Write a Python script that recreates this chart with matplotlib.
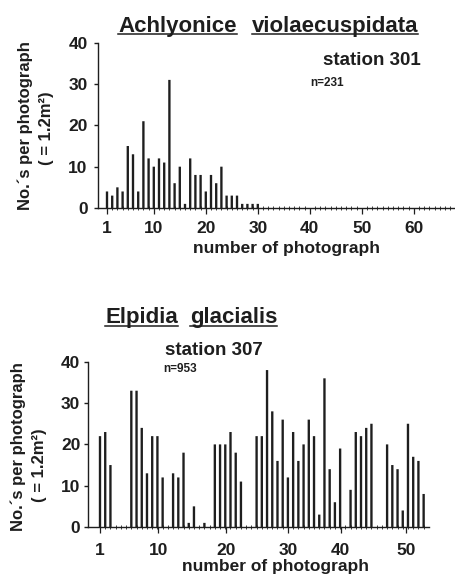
import matplotlib
matplotlib.use("Agg")
import matplotlib.pyplot as plt
from matplotlib.lines import Line2D
from matplotlib.ticker import FixedLocator

plt.rcParams['font.family'] = ['Liberation Sans', 'DejaVu Sans']
plt.rcParams['font.weight'] = 'bold'

# ---------------- data ----------------
top_species = ["Achlyonice", "violaecuspidata"]
top_station = "station 301"
top_n = "n=231"
top_photos = list(range(1, 31))
top_counts = [4, 3, 5, 4, 15, 13, 4, 21, 12, 10, 12, 11, 31, 6, 10, 1, 12, 8, 8, 4,
              8, 6, 10, 3, 3, 3, 1, 1, 1, 1]
top_all_photos = list(range(1, 68))
top_xticks = [1, 10, 20, 30, 40, 50, 60]

bot_species = ["Elpidia", "glacialis"]
bot_station = "station 307"
bot_n = "n=953"
bot_counts = [22, 23, 15, 0, 0, 0, 33, 33, 24, 13, 22, 22, 12, 0, 13, 12, 18, 1, 5, 0,
              1, 0, 20, 20, 20, 23, 18, 11, 0, 0, 22, 22, 38, 28, 16, 26, 12, 23, 16, 20,
              26, 22, 3, 36, 14, 6, 19, 0, 9, 23, 22, 24, 25, 0, 0, 20, 15, 14, 4, 25,
              17, 16, 8]
bot_slots = list(range(len(bot_counts)))
bot_tick_pos = [0, 11.2, 24.1, 36.1, 46.1, 58.6]
bot_tick_labels = ["1", "10", "20", "30", "40", "50"]

yticks = [0, 10, 20, 30, 40]
ylabel1 = "No.\u00b4s per photograph"
ylabel2 = "( = 1.2m\u00b2)"
xlabel = "number of photograph"

INK = "#1e1e1e"
W, H = 456, 581
fig = plt.figure(figsize=(W / 100, H / 100), dpi=100)
fig.patch.set_facecolor("white")


def fx(x):
    return x / W


def fy(y):
    return 1 - y / H


def style(ax, xpad, ypad):
    for s in ("top", "right"):
        ax.spines[s].set_visible(False)
    for s in ("left", "bottom"):
        ax.spines[s].set_color(INK)
        ax.spines[s].set_linewidth(1.0)
    ax.spines["left"].set_bounds(0, 40)
    ax.set_ylim(0, 40)
    ax.set_yticks(yticks)
    ax.tick_params(axis="y", direction="out", length=3, width=1.0, color=INK,
                   labelsize=12.5, labelcolor=INK, pad=ypad)
    ax.tick_params(axis="x", which="major", direction="out", length=4, width=0.9,
                   color=INK, labelsize=12.5, labelcolor=INK, pad=xpad)
    ax.tick_params(axis="x", which="minor", direction="inout", length=2.5, width=0.6,
                   color=INK)
    for lab in ax.get_xticklabels() + ax.get_yticklabels():
        lab.set_fontweight("bold")
    ax.set_facecolor("none")


# ---------------- top chart ----------------
ax1 = fig.add_axes([fx(98), fy(208), fx(455) - fx(98), fy(42.7) - fy(208)])
bars1 = ax1.bar(top_photos, top_counts, width=0.45, color=INK, linewidth=0, clip_on=False)
for b in bars1:
    b.set_snap(False)
ax1.set_xlim(1 - 9 / 5.2, 1 + 348 / 5.2)
ax1.set_xticks(top_xticks)
ax1.set_xticklabels([str(t) for t in top_xticks])
ax1.xaxis.set_minor_locator(FixedLocator(top_all_photos))
style(ax1, xpad=5.5, ypad=4.5)

# ---------------- bottom chart ----------------
ax2 = fig.add_axes([fx(88), fy(527), fx(429) - fx(88), fy(361.8) - fy(527)])
bars2 = ax2.bar(bot_slots, bot_counts, width=0.45, color=INK, linewidth=0, clip_on=False)
for b in bars2:
    b.set_snap(False)
ax2.set_xlim(-12 / 5.22, 329 / 5.22)
ax2.set_xticks(bot_tick_pos)
ax2.set_xticklabels(bot_tick_labels)
ax2.xaxis.set_minor_locator(FixedLocator(bot_slots))
style(ax2, xpad=7.5, ypad=2.5)

# ---------------- texts ----------------
tk = dict(color=INK, fontweight="bold")
t1a = fig.text(fx(237), fy(31.7), top_species[0], ha="right", va="baseline", fontsize=16, **tk)
t1b = fig.text(fx(252), fy(31.7), top_species[1], ha="left", va="baseline", fontsize=16, **tk)
fig.text(fx(421), fy(65), top_station, ha="right", va="baseline", fontsize=13.5, **tk)
fig.text(fx(310), fy(86), top_n, ha="left", va="baseline", fontsize=8.5, **tk)

t2a = fig.text(fx(178), fy(322.7), bot_species[0], ha="right", va="baseline", fontsize=16, **tk)
t2b = fig.text(fx(190), fy(322.7), bot_species[1], ha="left", va="baseline", fontsize=16, **tk)
fig.text(fx(165), fy(355), bot_station, ha="left", va="baseline", fontsize=13.5, **tk)
fig.text(fx(163), fy(372), bot_n, ha="left", va="baseline", fontsize=8.5, **tk)

fig.text(fx(25), fy(126), ylabel1, rotation=90, ha="center", va="center", fontsize=12, **tk)
fig.text(fx(47), fy(128), ylabel2, rotation=90, ha="center", va="center", fontsize=12, **tk)
fig.text(fx(18), fy(447), ylabel1, rotation=90, ha="center", va="center", fontsize=12, **tk)
fig.text(fx(40), fy(465), ylabel2, rotation=90, ha="center", va="center", fontsize=12, **tk)

fig.text(fx(287), fy(252.5), xlabel, ha="center", va="baseline", fontsize=12.5, **tk)
fig.text(fx(275), fy(571), xlabel, ha="center", va="baseline", fontsize=12.5, **tk)

fig.canvas.draw()
renderer = fig.canvas.get_renderer()


def underline(t, y_px):
    bb = t.get_window_extent(renderer)
    fig.add_artist(Line2D([bb.x0 / W, bb.x1 / W], [fy(y_px)] * 2, color=INK, lw=1.1,
                          transform=fig.transFigure))


underline(t1a, 33.8)
underline(t1b, 33.8)
underline(t2a, 325.5)
underline(t2b, 325.5)

fig.savefig("out.png", dpi=100, facecolor="white")
